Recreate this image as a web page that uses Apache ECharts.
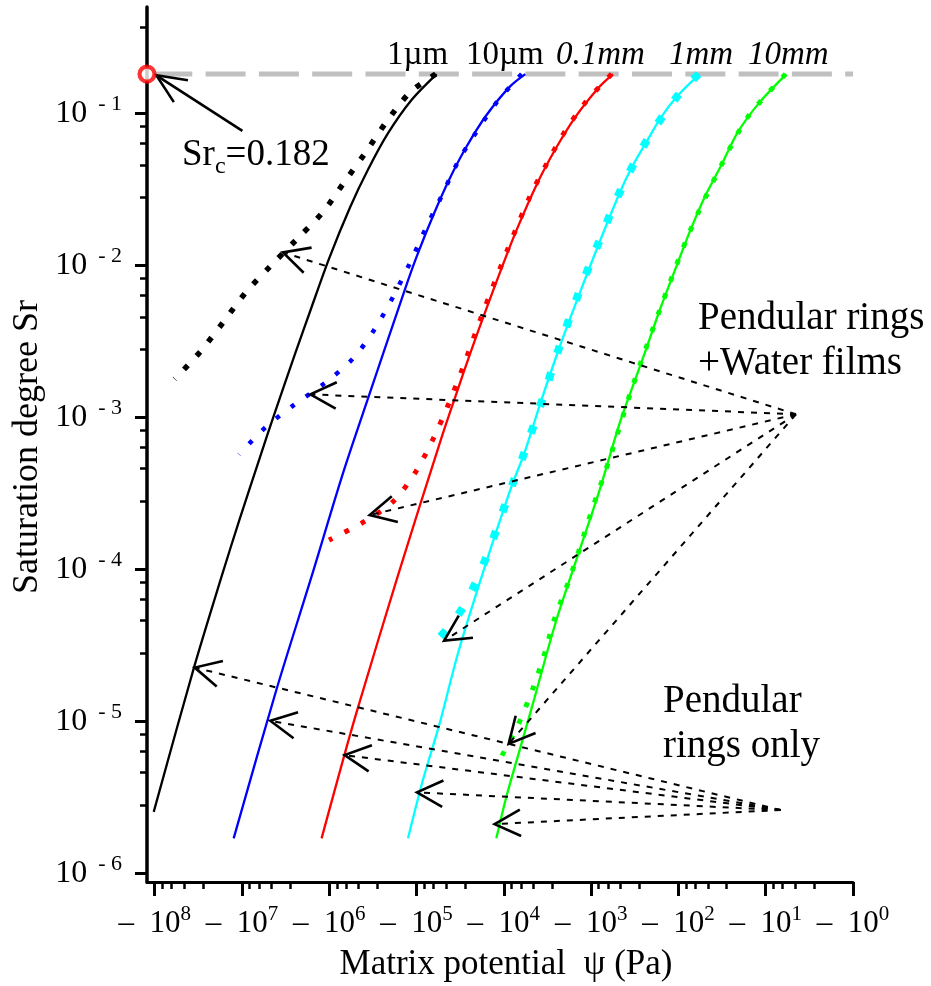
<!DOCTYPE html>
<html>
<head>
<meta charset="utf-8">
<script src="https://cdn.jsdelivr.net/npm/echarts@6/dist/echarts.min.js"></script>
<style>html,body{margin:0;padding:0;background:#fff}#chart{width:931px;height:986px}</style>
</head>
<body>
<div id="chart"></div>
<script>
// ---------------- DATA (matrix potential psi in Pa, saturation degree Sr) ----------------
const xRange = [-1.2246e8, -1];          // psi axis extent
const yRange = [8.77e-7, 0.503];          // Sr axis extent
const xTickExponents = [8, 7, 6, 5, 4, 3, 2, 1, 0];
const yTickExponents = [-6, -5, -4, -3, -2, -1];
const minorMantissas = [2.8, 4.6, 6.4, 8.2];
const yExtraMinor = [0.37];

const poreLabels = ['1\u00b5m', '10\u00b5m', '0.1mm', '1mm', '10mm'];
const srCritical = 0.182;

// solid curves (pendular rings + water films model)
const solid1um = [
  [-5.89e4, 0.182], [-1.148e5, 0.1225], [-2.138e5, 0.0738], [-3.631e5, 0.0424], [-5.754e5, 0.0243],
  [-1.0e6, 0.0112], [-1.641e6, 0.00508], [-2.455e6, 0.00264], [-4.365e6, 0.00101], [-6.026e6, 0.000579],
  [-1.072e7, 0.000211], [-1.718e7, 8.93e-5], [-3.548e7, 2.26e-5], [-1.026e8, 2.54e-6]
];
const solid10um = [
  [-5680, 0.182], [-8590, 0.150], [-1.585e4, 0.0975], [-2.69e4, 0.0603], [-4.18e4, 0.0373],
  [-6.31e4, 0.0220], [-1.0e5, 0.0114], [-1.37e5, 0.00687], [-3.44e5, 0.00144], [-6.97e5, 0.000429],
  [-1.60e6, 8.93e-5], [-4.04e6, 1.61e-5], [-1.245e7, 1.70e-6]
];
const solid01mm = [
  [-562, 0.182], [-804, 0.150], [-1510, 0.0951], [-2541, 0.0589], [-4159, 0.0346],
  [-7161, 0.0171], [-1.047e4, 0.0098], [-1.663e4, 0.00483], [-2.427e4, 0.00264], [-3.342e4, 0.00155],
  [-5.284e4, 0.000710], [-1.652e5, 8.93e-5], [-4.656e5, 1.25e-5], [-6.714e5, 6.00e-6], [-1.225e6, 1.70e-6]
];
const solid1mm = [
  [-57.1, 0.182], [-101, 0.132], [-157, 0.0951], [-233, 0.0650], [-332, 0.0457],
  [-457, 0.0313], [-800, 0.0143], [-1380, 0.00638], [-2296, 0.00291], [-3715, 0.00130],
  [-5750, 0.000594], [-8200, 0.000349], [-1.70e4, 9.89e-5], [-3.357e4, 2.80e-5], [-5.433e4, 9.70e-6],
  [-8.453e4, 4.11e-6], [-1.253e5, 1.70e-6]
];
const solid10mm = [
  [-5.8, 0.182], [-11.7, 0.119], [-20.8, 0.0757], [-32.3, 0.0457], [-50.1, 0.0282],
  [-74.5, 0.0166], [-106, 0.0098], [-164, 0.00508], [-244, 0.00264], [-347, 0.00151],
  [-472, 0.000914], [-800, 0.000333], [-1355, 0.000134], [-2506, 4.63e-5], [-4645, 1.31e-5],
  [-6592, 6.47e-6], [-9354, 3.19e-6], [-1.219e4, 1.70e-6]
];

// dotted curves (pendular rings only)
const dotted1um = [
  [-6.04e4, 0.182], [-1.178e5, 0.1387], [-2.218e5, 0.0881], [-3.855e5, 0.0553], [-6.84e5, 0.0349],
  [-1.199e6, 0.0223], [-2.382e6, 0.0148], [-4.732e6, 0.00989], [-9.14e6, 0.00661], [-1.663e7, 0.00419],
  [-3.055e7, 0.00268], [-5.90e7, 0.00179]
];
const dotted10um = [
  [-6250, 0.182], [-1.156e4, 0.1225], [-2.032e4, 0.0769], [-3.357e4, 0.0481], [-5.117e4, 0.0290],
  [-7.87e4, 0.0175], [-1.199e5, 0.0103], [-1.862e5, 0.00621], [-3.02e5, 0.00381], [-5.358e5, 0.00244],
  [-1.13e6, 0.00168], [-2.489e6, 0.00122], [-5.395e6, 0.000859], [-1.081e7, 0.000571]
];
const dotted01mm = [
  [-582, 0.182], [-1156, 0.119], [-2014, 0.0757], [-3258, 0.0463], [-5058, 0.0282],
  [-8974, 0.0129], [-1.811e4, 0.00459], [-3.02e4, 0.00205], [-4.365e4, 0.00120], [-6.486e4, 0.000719],
  [-1.023e5, 0.000439], [-1.862e5, 0.000279], [-4.178e5, 0.000203], [-1.007e6, 0.000156]
];
const dotted1mm = [
  [-58.7, 0.182], [-101, 0.132], [-233, 0.0658], [-459, 0.0313], [-815, 0.0143],
  [-1416, 0.00638], [-2296, 0.00294], [-3622, 0.00131], [-5781, 0.000594], [-7516, 0.000397],
  [-9528, 0.000272], [-1.219e4, 0.000182], [-1.585e4, 0.000121], [-2.104e4, 8.17e-5], [-2.938e4, 5.62e-5],
  [-4.56e4, 3.99e-5], [-7.727e4, 2.94e-5]
];
const dotted10mm = [
  [-5.92, 0.182], [-16.0, 0.0951], [-32.3, 0.0457], [-74.5, 0.0166], [-164, 0.00508],
  [-347, 0.00151], [-614, 0.000537], [-995, 0.000239], [-1355, 0.000137], [-1845, 8.09e-5],
  [-2618, 4.76e-5], [-3412, 2.80e-5], [-4645, 1.65e-5], [-6887, 9.46e-6], [-1.069e4, 5.85e-6]
];

// annotation arrows (from label point to arrow tip)
const filmArrowOrigin = [-4.5, 1.05e-3];
const filmArrowTips = [[-3.39e6, 0.0122], [-1.644e6, 0.00142], [-3.444e5, 0.000228], [-4.831e4, 3.40e-5], [-8810, 7.11e-6]];
const ringArrowOrigin = [-6.75, 2.61e-6];
const ringArrowTips = [[-3.48e7, 2.26e-5], [-4.73e6, 1.009e-5], [-6.668e5, 6.0e-6], [-9.886e4, 3.41e-6], [-1.274e4, 2.11e-6]];
const srcArrowTail = [-9.89e6, 0.0769];
const srcArrowTip = [-9.57e7, 0.1786];

// ---------------- STYLES ----------------
const F = "'Liberation Serif', 'Times New Roman', Times, serif";
const colors = ['#000000', '#0000ff', '#ff0000', '#00ffff', '#00ff00'];
const dotStyles = [
  { width: 5.5, dash: [5.5, 12.8] },
  { width: 4.5, dash: [4.5, 14] },
  { width: 5, dash: [5, 13.5] },
  { width: 8, dash: [8, 20] },
  { width: 5, dash: [5, 13] }
];
const solidSets = [solid1um, solid10um, solid01mm, solid1mm, solid10mm];
const dottedSets = [dotted1um, dotted10um, dotted01mm, dotted1mm, dotted10mm];

// ---------------- BUILD ----------------
const toXY = p => [Math.log10(-p[0]), Math.log10(p[1])];
const xLo = Math.log10(-xRange[1]), xHi = Math.log10(-xRange[0]);
const yLo = Math.log10(yRange[0]), yHi = Math.log10(yRange[1]);

const xMinor = [];
for (let k = 0; k < 8; k++) minorMantissas.forEach(m => { const v = k + Math.log10(m); if (v < xHi) xMinor.push(v); });
const yMinor = [];
for (let k = -6; k <= -2; k++) minorMantissas.forEach(m => { const v = k + Math.log10(m); if (v > yLo) yMinor.push(v); });
yExtraMinor.forEach(v => yMinor.push(Math.log10(v)));

const richX = {
  a: { fontFamily: F, fontSize: 31, lineHeight: 40, color: '#000' },
  b: { fontFamily: F, fontSize: 21, verticalAlign: 'top', color: '#000' }
};
const richY = {
  a: { fontFamily: F, fontSize: 32, lineHeight: 40, color: '#000' },
  b: { fontFamily: F, fontSize: 22, verticalAlign: 'top', color: '#000' }
};

function arrowRenderer(opts) {
  return function (params, api) {
    const tail = api.coord([api.value(0), api.value(1)]);
    const tip = api.coord([api.value(2), api.value(3)]);
    const dx = tail[0] - tip[0], dy = tail[1] - tip[1];
    const L = Math.hypot(dx, dy) || 1;
    const ux = dx / L, uy = dy / L;
    const arm = a => {
      const c = Math.cos(a), s = Math.sin(a);
      return [tip[0] + opts.head * (ux * c - uy * s), tip[1] + opts.head * (ux * s + uy * c)];
    };
    return {
      type: 'group',
      children: [
        { type: 'line', shape: { x1: tail[0], y1: tail[1], x2: tip[0], y2: tip[1] },
          style: { stroke: '#000', lineWidth: opts.width, lineDash: opts.dash || null, fill: 'none' } },
        { type: 'polyline', shape: { points: [arm(opts.angle), tip, arm(-opts.angle)] },
          style: { stroke: '#000', lineWidth: opts.headWidth, fill: 'none' } }
      ]
    };
  };
}
const arrowItems = (origin, tips) => tips.map(t => toXY(origin).concat(toXY(t)));

const series = [];
// Sr_c reference line
series.push({
  type: 'line', data: [[xRange[0], srCritical], [xRange[1], srCritical]].map(toXY),
  showSymbol: false, silent: true, z: 1, clip: false,
  lineStyle: { color: '#c0c0c0', width: 5, type: [40, 13.3], dashOffset: 48 }
});
dottedSets.forEach((d, i) => series.push({
  type: 'line', data: d.map(toXY), showSymbol: false, smooth: 0.3, silent: true, z: 2,
  lineStyle: { color: colors[i], width: dotStyles[i].width, type: dotStyles[i].dash, cap: 'butt' }
}));
solidSets.forEach((d, i) => series.push({
  type: 'line', data: d.map(toXY), showSymbol: false, smooth: 0.3, silent: true, z: 3,
  lineStyle: { color: colors[i], width: 2.3 }
}));
series.push({
  type: 'custom', coordinateSystem: 'cartesian2d', silent: true, z: 4,
  encode: { x: [0, 2], y: [1, 3] },
  data: arrowItems(filmArrowOrigin, filmArrowTips).concat(arrowItems(ringArrowOrigin, ringArrowTips)),
  renderItem: arrowRenderer({ width: 2, dash: [6, 7], head: 29, angle: 27 * Math.PI / 180, headWidth: 2.6 })
});
series.push({
  type: 'custom', coordinateSystem: 'cartesian2d', silent: true, z: 4,
  encode: { x: [0, 2], y: [1, 3] },
  data: [toXY(srcArrowTail).concat(toXY(srcArrowTip))],
  renderItem: arrowRenderer({ width: 2.6, head: 32, angle: 24 * Math.PI / 180, headWidth: 2.6 })
});
series.push({
  type: 'scatter', data: [toXY([xRange[0], srCritical])], clip: false, silent: true, z: 10,
  symbol: 'circle', symbolSize: 15,
  itemStyle: { color: '#ffffff', borderColor: '#ff0000', borderWidth: 4.2 }
});

const txt = (x, y, text, size, extra) => ({
  type: 'text', x: x, y: y, silent: true, z: 20,
  style: Object.assign({ text: text, fontFamily: F, fontSize: size, fill: '#000', align: 'left', verticalAlign: 'middle' }, extra || {})
});

const option = {
  animation: false,
  backgroundColor: '#ffffff',
  grid: { left: 147, right: 78, top: 7, bottom: 104 },
  xAxis: [
    {
      type: 'value', min: xLo, max: xHi, inverse: true, position: 'bottom',
      axisLine: { show: true, onZero: false, lineStyle: { color: '#000', width: 3 } },
      axisTick: { show: true, customValues: xTickExponents, length: 14, lineStyle: { color: '#000', width: 3 } },
      axisLabel: { show: true, customValues: xTickExponents, margin: 22, color: '#000',
        formatter: v => '{a|\u2013  10}{b|' + Math.round(v) + '}', rich: richX },
      splitLine: { show: false }
    },
    {
      type: 'value', min: xLo, max: xHi, inverse: true, position: 'bottom',
      axisLine: { show: false, onZero: false },
      axisTick: { show: true, customValues: xMinor, length: 7, lineStyle: { color: '#000', width: 2.5 } },
      axisLabel: { show: false }, splitLine: { show: false }
    }
  ],
  yAxis: [
    {
      type: 'value', min: yLo, max: yHi, position: 'left',
      axisLine: { show: true, onZero: false, lineStyle: { color: '#000', width: 3.5 } },
      axisTick: { show: true, customValues: yTickExponents, length: 12, lineStyle: { color: '#000', width: 3 } },
      axisLabel: { show: true, customValues: yTickExponents, margin: 25, color: '#000',
        formatter: v => '{a|10}{b|  - ' + Math.round(-v) + '}', rich: richY },
      splitLine: { show: false }
    },
    {
      type: 'value', min: yLo, max: yHi, position: 'left',
      axisLine: { show: false, onZero: false },
      axisTick: { show: true, customValues: yMinor, length: 7, lineStyle: { color: '#000', width: 2.5 } },
      axisLabel: { show: false }, splitLine: { show: false }
    }
  ],
  series: series,
  graphic: [
    txt(387, 55, poreLabels[0], 33),
    txt(466, 55, poreLabels[1], 33),
    txt(556, 55, poreLabels[2], 33, { fontStyle: 'italic' }),
    txt(669, 55, poreLabels[3], 33, { fontStyle: 'italic' }),
    txt(748, 55, poreLabels[4], 33, { fontStyle: 'italic' }),
    txt(698, 319, 'Pendular rings', 39),
    txt(698, 364, '+Water films', 39),
    txt(663, 702, 'Pendular', 39),
    txt(663, 747, 'rings only', 39),
    {
      type: 'text', x: 182, y: 155, silent: true, z: 20,
      style: {
        text: '{a|Sr}{b|c}{a|=0.182}', align: 'left', verticalAlign: 'middle', fill: '#000',
        rich: {
          a: { fontFamily: F, fontSize: 37, lineHeight: 48, color: '#000' },
          b: { fontFamily: F, fontSize: 24, verticalAlign: 'bottom', color: '#000' }
        }
      }
    },
    {
      type: 'text', x: 28, y: 447, rotation: Math.PI / 2, silent: true, z: 20,
      style: { text: 'Saturation degree Sr', fontFamily: F, fontSize: 36, fill: '#000', align: 'center', verticalAlign: 'middle' }
    },
    txt(506, 965, 'Matrix potential  \u03c8 (Pa)', 35, { align: 'center' })
  ]
};

const chart = echarts.init(document.getElementById('chart'), null, { renderer: 'canvas' });
chart.setOption(option);
</script>
</body>
</html>
